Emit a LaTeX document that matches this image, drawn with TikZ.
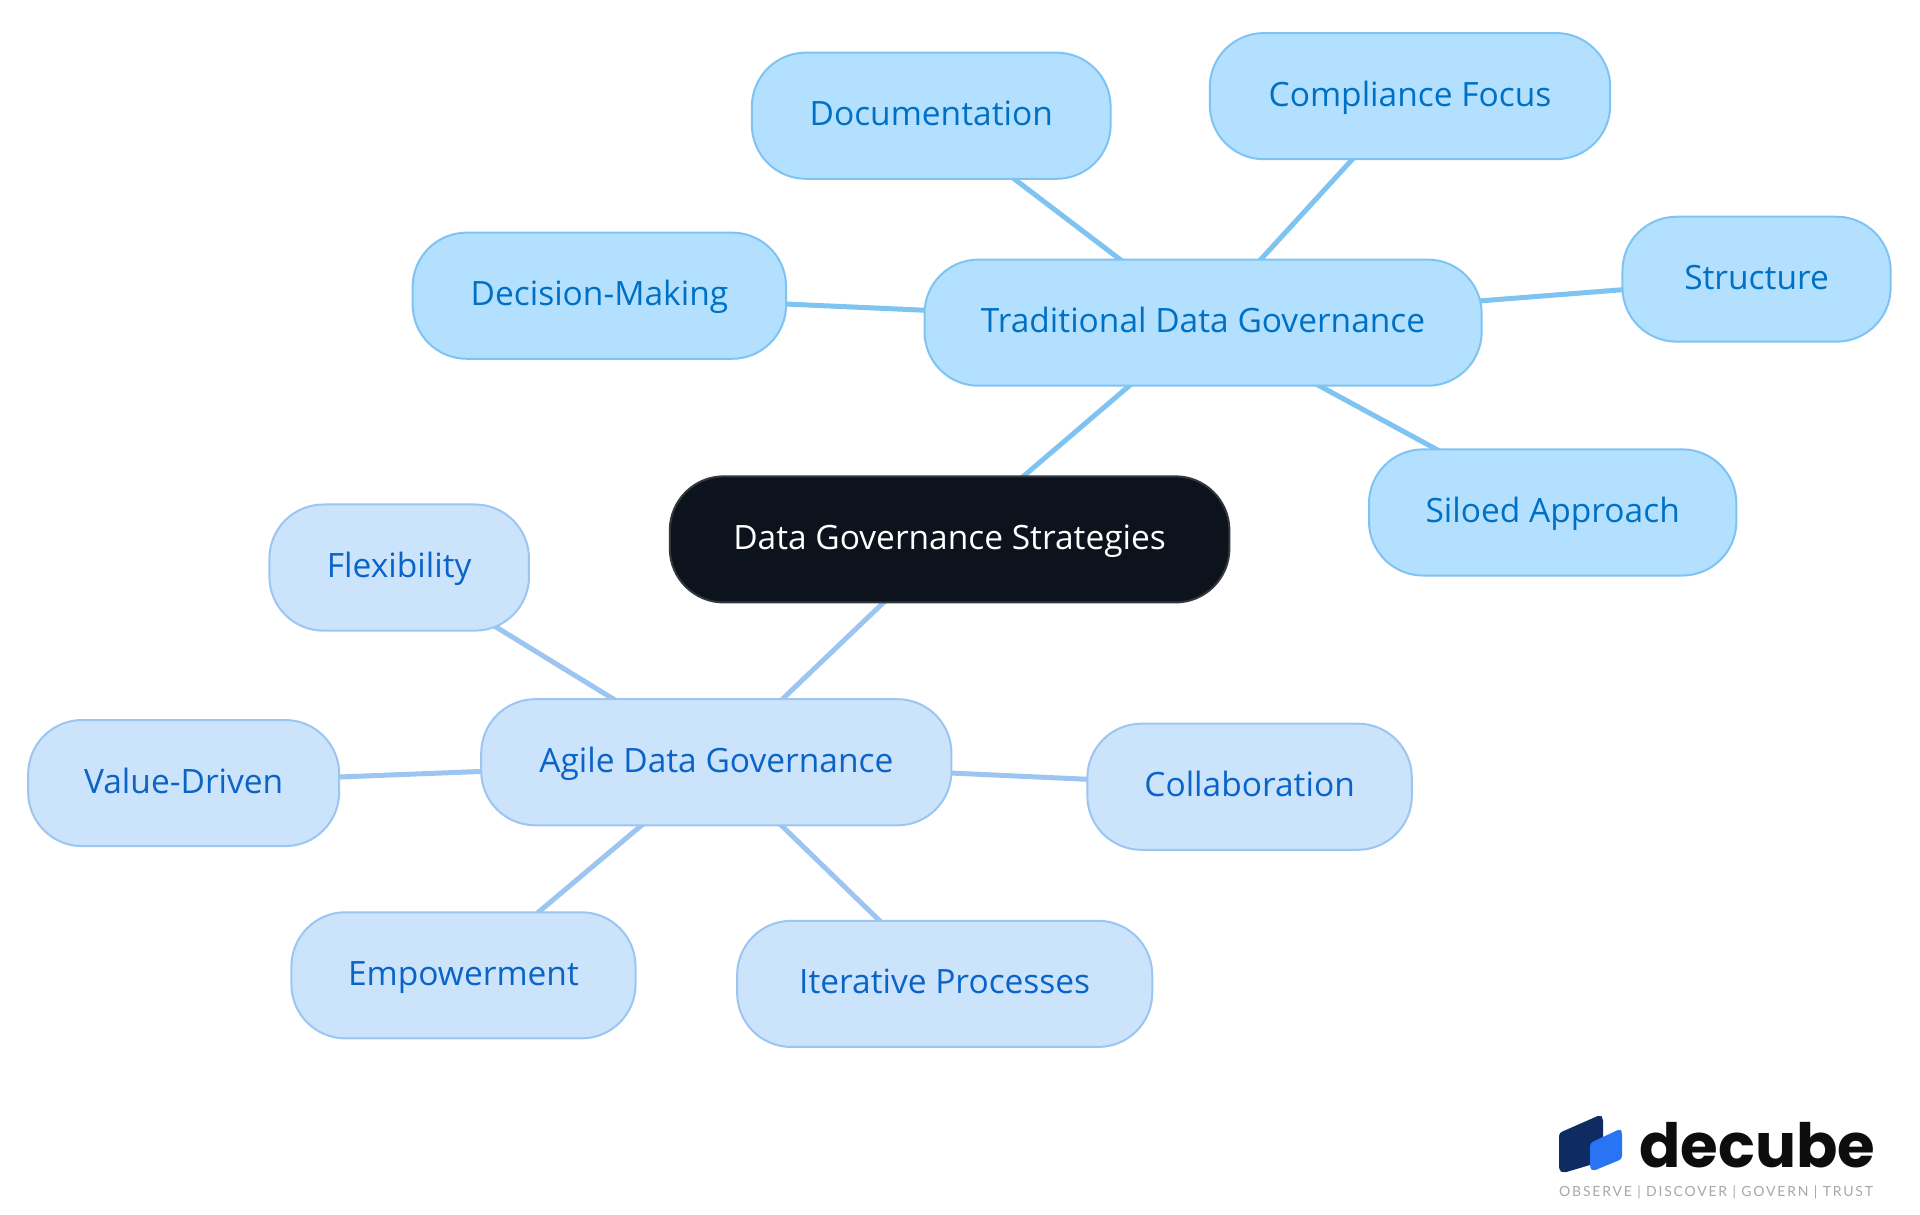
\documentclass[tikz,border=0pt]{standalone}
\usepackage{fontspec}
\setmainfont{Open Sans}
\newfontfamily\logofont{Poppins}
\newfontfamily\tagfont{Lato}[LetterSpace=12.7]
\usetikzlibrary{backgrounds}
\definecolor{rootfill}{HTML}{0C131C}
\definecolor{rootline}{HTML}{33383F}
\definecolor{tfill}{HTML}{B3E0FF}
\definecolor{tline}{HTML}{7FC3F3}
\definecolor{ttext}{HTML}{0070C4}
\definecolor{afill}{HTML}{CCE3FC}
\definecolor{aline}{HTML}{9CC5F2}
\definecolor{atext}{HTML}{0A64C8}
\tikzset{
  x=1pt,y=-1pt,
  mapbox/.style={rectangle,rounded corners=54pt,line width=2pt,inner sep=0pt,
    align=center,font=\fontsize{33.5}{40}\selectfont,text height=27pt,text depth=7pt},
  rootbox/.style={mapbox,draw=rootline,fill=rootfill,text=white},
  tbox/.style={mapbox,draw=tline,fill=tfill,text=ttext},
  abox/.style={mapbox,draw=aline,fill=afill,text=atext},
  tlink/.style={draw=tline,line width=5pt},
  alink/.style={draw=aline,line width=5pt}
}
\newcommand{\mapnode}[7]{%
  \pgfmathsetmacro{\cxx}{(#3+#4)/2*1.2245}
  \pgfmathsetmacro{\cyy}{(#5+#6)/2*1.2245}
  \pgfmathsetmacro{\wid}{(#4-#3)*1.2245}
  \pgfmathsetmacro{\hei}{(#6-#5)*1.2245}
  \node[#1,minimum width=\wid pt,minimum height=\hei pt] (#2) at (\cxx,\cyy) {#7};
}
\begin{document}
\begin{tikzpicture}
\useasboundingbox (0,0) rectangle (1920,1215);
\mapnode{rootbox}{root}{547}{1004}{389}{492}{Data Governance Strategies}
\mapnode{tbox}{trad}{755}{1210}{212}{315}{Traditional Data Governance}
\mapnode{tbox}{doc}{614}{907}{43}{146}{Documentation}
\mapnode{tbox}{comp}{988}{1315}{27}{130}{Compliance Focus}
\mapnode{tbox}{deci}{337}{642}{190}{293}{Decision-Making}
\mapnode{tbox}{stru}{1325}{1544}{177}{279}{Structure}
\mapnode{tbox}{silo}{1118}{1418}{367}{470}{Siloed Approach}
\mapnode{abox}{agile}{393}{777}{571}{674}{Agile Data Governance}
\mapnode{abox}{flex}{220}{432}{412}{515}{Flexibility}
\mapnode{abox}{value}{23}{277}{588}{691}{Value-Driven}
\mapnode{abox}{coll}{888}{1153}{591}{694}{Collaboration}
\mapnode{abox}{empo}{238}{519}{745}{848}{Empowerment}
\mapnode{abox}{iter}{602}{941}{752}{855}{Iterative Processes}
\begin{scope}[on background layer]
\fill[white] (0,0) rectangle (1920,1215);
\draw[tlink] (root.center) -- (trad.center);
\draw[alink] (root.center) -- (agile.center);
\foreach \n in {doc,comp,deci,stru,silo} \draw[tlink] (trad.center) -- (\n.center);
\foreach \n in {flex,value,coll,empo,iter} \draw[alink] (agile.center) -- (\n.center);
\end{scope}
% logo
\fill[rounded corners=3pt,fill={rgb,255:red,14;green,44;blue,98}]
  (1559,1133) -- (1600,1115) -- (1603,1118) -- (1603,1160) -- (1590,1165) -- (1563,1173) -- (1559,1170) -- cycle;
\fill[rounded corners=3pt,fill={rgb,255:red,40;green,116;blue,245}]
  (1590,1143) -- (1620,1129) -- (1622,1132) -- (1622,1159) -- (1593,1171) -- (1590,1168) -- cycle;
\node[anchor=base west,inner sep=0pt,font=\logofont\bfseries\fontsize{61}{61}\selectfont,text={rgb,255:red,13;green,13;blue,13}] (logo) at (1639,1167) {decube};
\node[anchor=base west,inner sep=0pt,font=\tagfont\fontsize{14}{14}\selectfont,text={rgb,255:red,168;green,168;blue,168}] (tag) at (1559,1196) {OBSERVE | DISCOVER | GOVERN | TRUST};
\end{tikzpicture}
\end{document}
